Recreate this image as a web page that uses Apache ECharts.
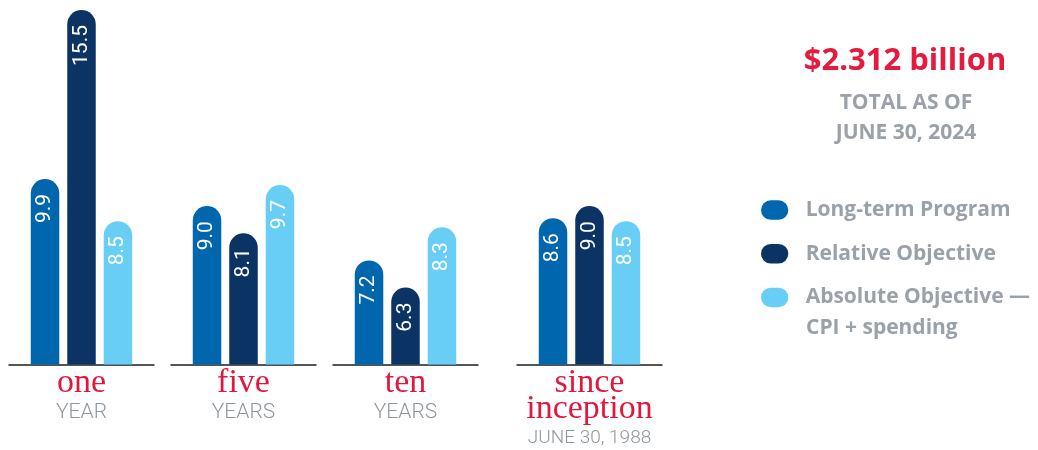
<!DOCTYPE html>
<html>
<head>
<meta charset="utf-8">
<script src="https://cdn.jsdelivr.net/npm/echarts@6/dist/echarts.min.js"></script>
<style>html,body{margin:0;padding:0;background:#fff}#c{width:1038px;height:450px}</style>
</head>
<body>
<div id="c"></div>
<script>
// ---- data ----
const categories = ['one', 'five', 'ten', 'since inception'];
const subLabels = ['YEAR', 'YEARS', 'YEARS', 'JUNE 30, 1988'];
const longTerm = [9.9, 9.0, 7.2, 8.6];
const relativeObj = [15.5, 8.1, 6.3, 9.0];
const absoluteObj = [8.5, 9.7, 8.3, 8.5];
const seriesNames = ['Long-term Program', 'Relative Objective', 'Absolute Objective —\nCPI + spending'];
const headline = '$2.312 billion';
const headlineSub = ['TOTAL AS OF', 'JUNE 30, 2024'];

// ---- styling / layout ----
const colors = ['#0066ae', '#0b3364', '#68cef5'];
const seriesValues = [longTerm, relativeObj, absoluteObj];
const groupLeft = [9, 171, 333, 517];
const groupWidth = 145;
const gray = '#9aa1a8';

const grids = [], xAxes = [], yAxes = [], series = [];
categories.forEach((cat, g) => {
  grids.push({ left: groupLeft[g], width: groupWidth, top: 10, bottom: 85.5, containLabel: false });
  xAxes.push({
    type: 'category', gridIndex: g, data: [cat],
    axisLine: { show: true, lineStyle: { color: '#1e1e1e', width: 1.5 } },
    axisTick: { show: false },
    axisLabel: {
      interval: 0, margin: 6,
      formatter: (v) => v.split(' ').map(w => '{a|' + w + '}').join('\n') + '\n{b|' + subLabels[g] + '}',
      rich: {
        a: { fontFamily: 'Liberation Serif', fontSize: 34, color: '#e0183d', lineHeight: 26 },
        b: { fontFamily: 'Roboto', fontWeight: 300, fontSize: g === 3 ? 19 : 21, color: '#8f979e', lineHeight: 32 }
      }
    }
  });
  yAxes.push({ type: 'value', gridIndex: g, min: 3.75, max: 15.5, show: false });
  seriesValues.forEach((vals, s) => {
    series.push({
      type: 'bar', name: seriesNames[s], xAxisIndex: g, yAxisIndex: g,
      data: [vals[g]], barWidth: 28.5, barGap: '28%',
      itemStyle: { color: colors[s], borderRadius: [14.25, 14.25, 0, 0] },
      label: {
        show: true, position: 'insideTop', distance: 15, rotate: 90,
        align: 'right', verticalAlign: 'middle',
        color: '#ffffff', fontFamily: 'Roboto', fontWeight: 400, fontSize: 21,
        formatter: (p) => p.value.toFixed(1)
      },
      emphasis: { disabled: true }
    });
  });
});

const pill = 'path://M10,0 L18,0 A10,10 0 0 1 18,20 L10,20 A10,10 0 0 1 10,0 Z';
const legendFont = { fontFamily: 'Open Sans', fontWeight: 'bold', fontSize: 21 };

const option = {
  backgroundColor: '#ffffff',
  animation: false,
  grid: grids, xAxis: xAxes, yAxis: yAxes, series: series,
  legend: {
    orient: 'vertical', left: 761, top: 194.3, padding: 0,
    itemWidth: 28, itemHeight: 19.5, itemGap: 12.2, icon: pill,
    selectedMode: false,
    formatter: (name) => name.split('\n')[0],
    textStyle: Object.assign({ color: gray, lineHeight: 31.5, padding: [0, 0, 0, 12] }, legendFont),
    data: seriesNames
  },
  graphic: [
    { type: 'text', x: 905, y: 61, style: { text: headline, fontFamily: 'Open Sans', fontWeight: 'bold', fontSize: 31, fill: '#e31b3f', align: 'center', verticalAlign: 'middle' } },
    { type: 'text', x: 906, y: 103, style: { text: headlineSub[0], fontFamily: 'Open Sans', fontWeight: 'bold', fontSize: 21, fill: gray, align: 'center', verticalAlign: 'middle' } },
    { type: 'text', x: 906, y: 133, style: { text: headlineSub[1], fontFamily: 'Open Sans', fontWeight: 'bold', fontSize: 21, fill: gray, align: 'center', verticalAlign: 'middle' } },
    { type: 'text', x: 806, y: 328.5, style: Object.assign({ text: seriesNames[2].split('\n')[1], fill: gray, align: 'left', verticalAlign: 'middle' }, legendFont) }
  ]
};
echarts.init(document.getElementById('c'), null, { renderer: 'canvas' }).setOption(option);
</script>
</body>
</html>
